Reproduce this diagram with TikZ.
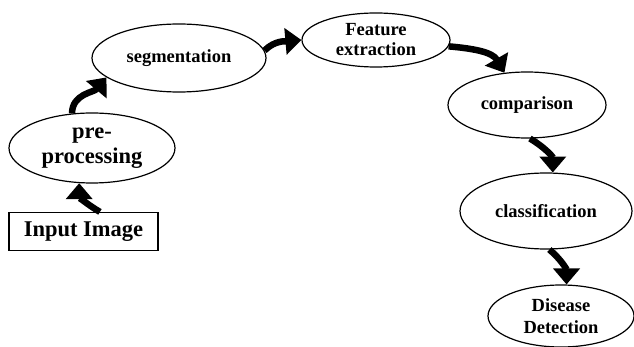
\documentclass[tikz,border=0pt]{standalone}
\usepackage{fontspec}
\setmainfont{Liberation Serif}
\usetikzlibrary{shapes.geometric,arrows.meta}
\begin{document}
\begin{tikzpicture}[x=1pt, y=1pt,
    mystage/.style={draw, ellipse, line width=1.2pt, inner sep=0pt, align=center, font=\bfseries\fontsize{18.5}{20}\selectfont},
    myarrow/.style={line width=6.5pt, -{Triangle[width=26pt, length=16pt]}}]
    \useasboundingbox (0,0) rectangle (634,-347);
    \node[draw, line width=1.2pt, minimum width=149pt, minimum height=38pt, font=\bfseries\fontsize{22.5}{24}\selectfont] (in) at (83.5,-231.5) {Input Image};
    \node[mystage, minimum width=166pt, minimum height=70pt, font=\bfseries\fontsize{22.5}{25}\selectfont] (pre) at (92,-148) {pre-\\processing};
    \node[mystage, minimum width=174pt, minimum height=68pt] (seg) at (179,-58) {segmentation};
    \node[mystage, minimum width=148pt, minimum height=54pt] (feat) at (376,-40) {Feature\\extraction};
    \node[mystage, minimum width=158pt, minimum height=66pt] (comp) at (527,-105) {comparison};
    \node[mystage, minimum width=172pt, minimum height=76pt] (class) at (546,-211) {classification};
    \node[mystage, minimum width=146pt, minimum height=62pt, font=\bfseries\fontsize{18.5}{22}\selectfont] (dis) at (561,-316) {Disease\\Detection};
    \foreach \a/\b/\o/\i in {in.50/pre.250/150/-90, pre.120/seg.195/90/230, seg.5/feat.180/45/185,
                             feat.-5/comp.125/-5/120, comp.275/class.80/-30/90, class.275/dis.80/-40/90}{
      \draw[myarrow] (\a) to[out=\o, in=\i] (\b);
    }
\end{tikzpicture}
\end{document}
